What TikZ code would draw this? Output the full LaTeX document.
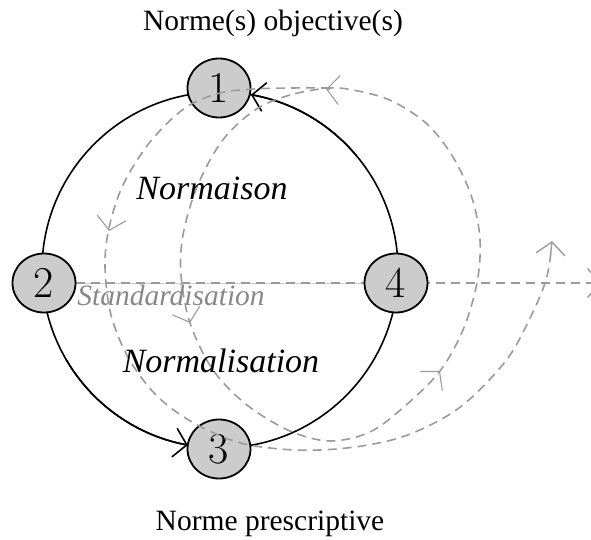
\documentclass[tikz,border=0pt]{standalone}
\usepackage{fontspec}
\setmainfont{Liberation Serif}
\newcommand{\digitfont}{\fontfamily{lmr}\selectfont}
\usetikzlibrary{shapes.geometric,arrows.meta,backgrounds}
\definecolor{nodegray}{RGB}{204,204,204}
\definecolor{dashgray}{RGB}{155,155,155}
\definecolor{textgray}{RGB}{136,136,136}
\definecolor{thingray}{RGB}{205,205,205}
\begin{document}
\begin{tikzpicture}[x=1pt,y=-1pt,
  numnode/.style={ellipse, draw=black, line width=1.8pt, fill=nodegray,
    minimum width=63pt, minimum height=59pt, inner sep=0pt,
    font=\digitfont\fontsize{44}{44}\selectfont},
  maincirc/.style={line width=1.6pt, draw=black},
  barb/.style={-{Straight Barb[length=12.5pt,width=29pt]}},
  spiral/.style={draw=dashgray, line width=1.6pt, dash pattern=on 9pt off 6pt},
  graybarb/.style={draw=dashgray, line width=1.1pt, -{Straight Barb[length=12.5pt,width=29pt]}},
  titletext/.style={font=\fontsize{29.5}{35}\selectfont, anchor=base},
  itlabel/.style={font=\itshape\fontsize{34}{40}\selectfont, anchor=base},
]
\path[use as bounding box] (0,0) rectangle (591,540);
\clip (0,0) rectangle (591,540);

% nodes
\node[numnode] (n1) at (219,88) {1};
\node[numnode] (n2) at (44,283) {2};
\node[numnode] (n3) at (219,449) {3};
\node[numnode] (n4) at (396,283) {4};

\coordinate (c) at (220,270);
\coordinate (hend) at (601,283);

\begin{scope}[on background layer]
  \draw[maincirc] (c) circle[radius=178pt];
  \draw[maincirc, barb] (c) ++(40:178pt) arc[start angle=40, end angle=80, radius=178pt];
  \draw[maincirc, barb] (c) ++(210:178pt) arc[start angle=210, end angle=259.6, radius=178pt];
  \draw[thingray, line width=0.9pt] (n2) -- (n4);
  \draw[spiral] (n2.east) -- (hend);
  \draw[graybarb, line width=1.4pt] (597,283) -- (hend);
\end{scope}

% inner loop of the spiral
\draw[spiral] plot[smooth cycle, tension=0.55] coordinates {
  (330,88) (290,95) (255,110) (222,141) (197,187) (183,235) (181,275)
  (190,323) (213,370) (247,405) (290,431) (330,441) (370,432) (405,406)
  (440,371) (463,330) (477,283) (480,240) (472,198) (453,157) (427,124)
  (392,101) (358,91)};
% outer turn of the spiral
\draw[spiral] plot[smooth, tension=0.55] coordinates {
  (330,88) (290,88) (255,89) (220,93) (185,108) (150,142) (123,185)
  (109,228) (105,267) (111,315) (129,359) (157,396) (192,422) (237,442)
  (280,449) (320,450) (362,446) (402,437) (440,420) (470,399) (508,358)
  (532,314) (546,280) (551,252)};
\coordinate (o1) at (550.6,254);
\coordinate (o2) at (552,241);
\draw[graybarb, line width=1.4pt] (o1) -- (o2);

% arrow marks along the spiral
\draw[graybarb] (330,89.3) -- (326,89);
\draw[graybarb] (189.4,321.1) -- (190,323);
\draw[graybarb] (438.7,372.5) -- (440,371);
\draw[graybarb] (109.4,229) -- (109,231);

% labels
\node[titletext] (top) at (273,30.5) {Norme(s) objective(s)};
\node[titletext] (bottom) at (270,530) {Norme prescriptive};
\node[itlabel] (lab1) at (212,200) {Normaison};
\node[itlabel] (lab2) at (221,372) {Normalisation};
\node[itlabel, text=textgray, font=\itshape\fontsize{29.5}{35}\selectfont] (lab3) at (171,305) {Standardisation};
\end{tikzpicture}
\end{document}
